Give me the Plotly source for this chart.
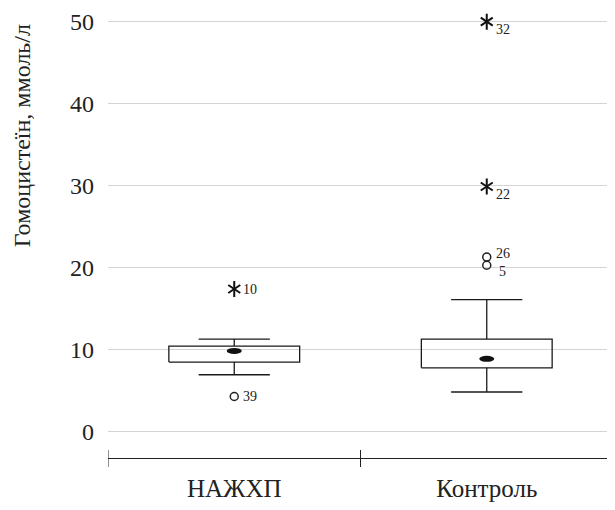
import plotly.graph_objects as go

# ---- data ----
categories = ["НАЖХП", "Контроль"]
q1 = [8.5, 7.8]
q3 = [10.45, 11.3]
median = [9.85, 8.9]
lower_whisker = [6.95, 4.85]
upper_whisker = [11.3, 16.1]

outlier_group = [0, 0, 1, 1, 1, 1]
outlier_value = [17.4, 4.3, 50.0, 29.9, 21.3, 20.3]
outlier_label = ["10", "39", "32", "22", "26", "5"]
outlier_extreme = [True, False, True, True, False, False]

y_ticks = [0, 10, 20, 30, 40, 50]
y_title = "Гомоцистеїн, ммоль/л"

# ---- style ----
FONT = "Liberation Serif"
BOX_HALF = 0.259
CAP_HALF = 0.141
TXT = "#222222"

fig = go.Figure()

for i, cat in enumerate(categories):
    c = i
    xs = [c - BOX_HALF, c + BOX_HALF, c + BOX_HALF, c - BOX_HALF, c - BOX_HALF, None,
          c, c, None, c, c, None,
          c - CAP_HALF, c + CAP_HALF, None, c - CAP_HALF, c + CAP_HALF]
    ys = [q1[i], q1[i], q3[i], q3[i], q1[i], None,
          q3[i], upper_whisker[i], None, q1[i], lower_whisker[i], None,
          upper_whisker[i], upper_whisker[i], None, lower_whisker[i], lower_whisker[i]]
    fig.add_trace(go.Scatter(x=xs, y=ys, mode="lines",
                             line=dict(color="#1a1a1a", width=1.3),
                             hoverinfo="skip", showlegend=False))
    # median ellipse
    fig.add_shape(type="circle", xref="x", yref="y",
                  xsizemode="pixel", ysizemode="pixel",
                  xanchor=c, yanchor=median[i],
                  x0=-7.5, x1=7.5, y0=-3, y1=3,
                  fillcolor="#111111", line=dict(color="#111111", width=0))

# outliers
ext_x = [g for g, e in zip(outlier_group, outlier_extreme) if e]
ext_y = [v for v, e in zip(outlier_value, outlier_extreme) if e]
mild_x = [g for g, e in zip(outlier_group, outlier_extreme) if not e]
mild_y = [v for v, e in zip(outlier_value, outlier_extreme) if not e]
for sym in ["y-up-open", "y-down-open"]:
    fig.add_trace(go.Scatter(x=ext_x, y=ext_y, mode="markers",
                             marker=dict(symbol=sym, size=10, color="#111111",
                                         line=dict(color="#111111", width=2.0)),
                             showlegend=False, hoverinfo="skip"))
fig.add_trace(go.Scatter(x=mild_x, y=mild_y, mode="markers",
                         marker=dict(symbol="circle-open", size=8, color="#222222",
                                     line=dict(color="#222222", width=1.5)),
                         showlegend=False, hoverinfo="skip"))

# outlier labels
for k, (g, v, lab) in enumerate(zip(outlier_group, outlier_value, outlier_label)):
    if g == 0:
        xs_, ys_ = 16, 0
    else:
        if lab == "26":
            ys_ = 4
        elif lab == "5":
            ys_ = -6
        else:
            ys_ = -8
        xs_ = 16
    fig.add_annotation(x=g, y=v, xref="x", yref="y", text=lab, showarrow=False,
                       xshift=xs_, yshift=ys_, xanchor="center", yanchor="middle",
                       font=dict(family=FONT, size=14, color=TXT))

# x-axis tick marks crossing axis line at category boundaries
for b in [-0.5 + j for j in range(len(categories) + 1)]:
    fig.add_shape(type="line", xref="x", yref="paper",
                  ysizemode="pixel", yanchor=0, x0=b, x1=b, y0=-9, y1=8,
                  line=dict(color="#222222", width=1))

fig.add_annotation(text=y_title, xref="paper", yref="paper", x=0, y=0.72,
                   xshift=-86, textangle=-90, showarrow=False,
                   xanchor="center", yanchor="middle",
                   font=dict(family=FONT, size=24, color=TXT))

# page body has an 8px default margin; compensate in figure size/margins
fig.update_layout(
    width=607, height=502,
    margin=dict(l=100, r=2, t=3, b=52, autoexpand=False),
    plot_bgcolor="white", paper_bgcolor="white",
    xaxis=dict(range=[-0.5, 1.5], tickvals=list(range(len(categories))),
               ticktext=categories, showgrid=False, zeroline=False,
               showline=True, linecolor="#222222", linewidth=1,
               ticks="", ticklabelstandoff=8, automargin=False,
               tickfont=dict(family=FONT, size=25, color=TXT)),
    yaxis=dict(range=[-3.2, 51.3], tickvals=y_ticks, showgrid=True,
               gridcolor="#d4d4d4", gridwidth=1.2, zeroline=False,
               showline=False, ticks="", ticklabelstandoff=13, automargin=False,
               tickfont=dict(family=FONT, size=24, color=TXT)),
)

fig.write_html("out.html")
